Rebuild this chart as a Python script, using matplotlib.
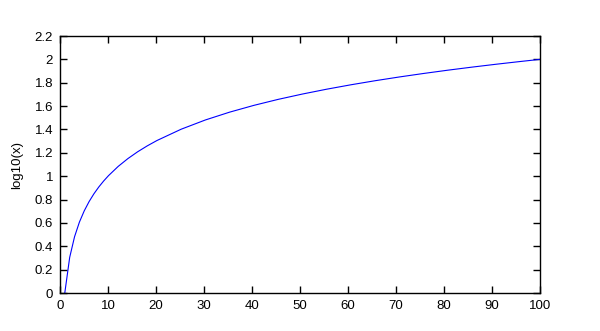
import matplotlib
matplotlib.use('Agg')
import matplotlib.pyplot as plt

xs = [1.01, 2.02, 3.03, 4.04, 5.05, 6.06, 7.07, 8.08, 9.09, 10.10,
      12.12, 14.14, 16.16, 18.18, 20.20, 25.25, 30.30, 35.35, 40.40, 45.45,
      50.51, 55.56, 60.61, 65.66, 70.71, 75.76, 80.81, 85.86, 90.91, 95.96, 100.0]
ys = [0.0044, 0.3054, 0.4815, 0.6064, 0.7033, 0.7825, 0.8495, 0.9075, 0.9586, 1.0044,
      1.0836, 1.1505, 1.2085, 1.2596, 1.3054, 1.4023, 1.4815, 1.5484, 1.6064, 1.6576,
      1.7033, 1.7447, 1.7825, 1.8173, 1.8495, 1.8794, 1.9075, 1.9338, 1.9586, 1.9821, 2.0]

xticks = [0, 10, 20, 30, 40, 50, 60, 70, 80, 90, 100]
yticks = [0, 0.2, 0.4, 0.6, 0.8, 1, 1.2, 1.4, 1.6, 1.8, 2, 2.2]
ytick_labels = ['0', '0.2', '0.4', '0.6', '0.8', '1', '1.2', '1.4', '1.6', '1.8', '2', '2.2']

plt.rcParams['font.family'] = ['Liberation Sans', 'DejaVu Sans']
plt.rcParams['font.size'] = 9.5

fig = plt.figure(figsize=(6, 3.31), dpi=100)
ax = fig.add_axes([0.1, 0.1148, 0.8, 0.7764])

ax.plot(xs, ys, color='#0000ff', linewidth=0.8)

ax.set_xlim(0, 100)
ax.set_ylim(0, 2.2)
ax.set_xticks(xticks)
ax.set_yticks(yticks)
ax.set_yticklabels(ytick_labels)
ax.tick_params(direction='in', length=5, width=1, top=True, right=True, pad=5, colors='black')
for s in ax.spines.values():
    s.set_linewidth(1)

ax.set_xlabel('x', labelpad=12)
ax.set_ylabel('log10(x)', labelpad=8)

fig.savefig('out.png', dpi=100)
